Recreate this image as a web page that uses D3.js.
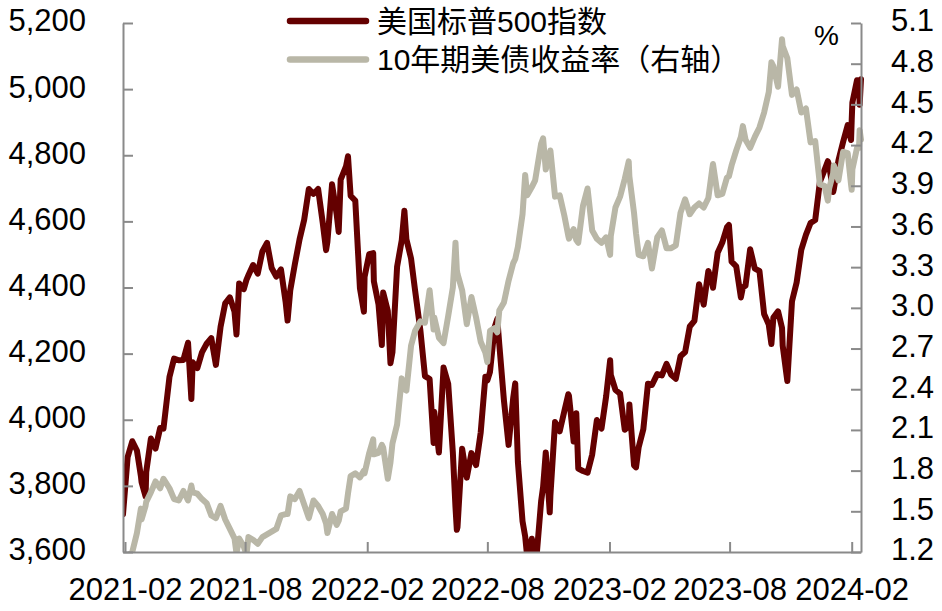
<!DOCTYPE html>
<html lang="zh">
<head>
  <meta charset="UTF-8" />
  <title>标普500与10年期美债收益率</title>
  <script src="https://cdn.jsdelivr.net/npm/d3@7"></script>
  <style>
    body {
      margin: 0;
      padding: 0;
      background: #fff;
    }
    svg {
      display: block;
      font-family: "Liberation Sans", Arial, "Noto Sans CJK SC", sans-serif;
    }
    .axis path, .axis line {
      stroke: #8a8a8a;
      stroke-width: 2px;
    }
    .axis text {
      font-size: 31px;
      fill: #000;
    }
    .line {
      fill: none;
      stroke-width: 6px;
      stroke-linejoin: round;
      stroke-linecap: round;
    }
  </style>
</head>
<body>
  <svg width="942" height="611"></svg>

  <script>
    // 日期（周频，加上部分周内高低点）
    const dates = [
      "2021-01-29","2021-02-05","2021-02-12","2021-02-19","2021-02-25","2021-02-26","2021-03-04","2021-03-05",
      "2021-03-12","2021-03-19","2021-03-26","2021-03-31","2021-04-09","2021-04-16","2021-04-23","2021-04-30",
      "2021-05-07","2021-05-12","2021-05-14","2021-05-21","2021-05-28","2021-06-04","2021-06-11","2021-06-18",
      "2021-06-25","2021-07-02","2021-07-09","2021-07-16","2021-07-19","2021-07-23","2021-07-30","2021-08-03",
      "2021-08-06","2021-08-13","2021-08-20","2021-08-27","2021-09-03","2021-09-10","2021-09-17","2021-09-24",
      "2021-10-01","2021-10-04","2021-10-08","2021-10-15","2021-10-22","2021-10-29","2021-11-05","2021-11-12",
      "2021-11-19","2021-11-26","2021-12-01","2021-12-03","2021-12-10","2021-12-17","2021-12-20","2021-12-23",
      "2021-12-31","2022-01-03","2022-01-07","2022-01-14","2022-01-21","2022-01-27","2022-01-28","2022-02-04",
      "2022-02-10","2022-02-11","2022-02-18","2022-02-23","2022-02-25","2022-03-04","2022-03-08","2022-03-11",
      "2022-03-18","2022-03-25","2022-03-29","2022-04-01","2022-04-08","2022-04-14","2022-04-22","2022-04-29",
      "2022-05-06","2022-05-12","2022-05-13","2022-05-20","2022-05-27","2022-06-03","2022-06-10","2022-06-14",
      "2022-06-16","2022-06-17","2022-06-24","2022-07-01","2022-07-08","2022-07-15","2022-07-22","2022-07-29",
      "2022-08-01","2022-08-05","2022-08-12","2022-08-16","2022-08-19","2022-08-26","2022-09-02","2022-09-09",
      "2022-09-12","2022-09-16","2022-09-23","2022-09-27","2022-09-30","2022-10-07","2022-10-12","2022-10-14",
      "2022-10-21","2022-10-24","2022-10-28","2022-11-03","2022-11-04","2022-11-11","2022-11-18","2022-11-25",
      "2022-12-01","2022-12-02","2022-12-09","2022-12-13","2022-12-16","2022-12-23","2022-12-30","2023-01-06",
      "2023-01-13","2023-01-20","2023-01-27","2023-02-02","2023-02-03","2023-02-10","2023-02-17","2023-02-24",
      "2023-03-02","2023-03-03","2023-03-10","2023-03-13","2023-03-17","2023-03-24","2023-03-31","2023-04-06",
      "2023-04-14","2023-04-21","2023-04-28","2023-05-05","2023-05-12","2023-05-19","2023-05-26","2023-06-02",
      "2023-06-09","2023-06-16","2023-06-23","2023-06-30","2023-07-06","2023-07-07","2023-07-14","2023-07-21",
      "2023-07-28","2023-07-31","2023-08-04","2023-08-11","2023-08-18","2023-08-21","2023-08-25","2023-09-01",
      "2023-09-08","2023-09-15","2023-09-22","2023-09-29","2023-10-03","2023-10-06","2023-10-13","2023-10-19",
      "2023-10-20","2023-10-27","2023-11-03","2023-11-10","2023-11-17","2023-11-24","2023-12-01","2023-12-08",
      "2023-12-15","2023-12-22","2023-12-27","2023-12-29","2024-01-04","2024-01-05","2024-01-12","2024-01-19",
      "2024-01-26","2024-01-31","2024-02-01","2024-02-02","2024-02-09","2024-02-12","2024-02-13","2024-02-15"
    ];

    // 美国标普500指数
    const spx = [
      3714, 3887, 3935, 3907, 3829, 3811, 3768, 3842,
      3943, 3913, 3975, 3973, 4129, 4185, 4180, 4181,
      4233, 4063, 4174, 4156, 4204, 4230, 4247, 4166,
      4281, 4352, 4370, 4327, 4258, 4412, 4395, 4423,
      4437, 4468, 4442, 4509, 4535, 4459, 4433, 4455,
      4357, 4300, 4391, 4471, 4545, 4605, 4698, 4683,
      4698, 4595, 4513, 4538, 4712, 4621, 4568, 4726,
      4766, 4797, 4677, 4663, 4398, 4327, 4432, 4501,
      4504, 4419, 4349, 4226, 4385, 4329, 4171, 4204,
      4463, 4543, 4632, 4546, 4488, 4393, 4272, 4132,
      4123, 3930, 4024, 3901, 4158, 4109, 3901, 3735,
      3667, 3675, 3912, 3825, 3899, 3863, 3962, 4130,
      4119, 4145, 4280, 4305, 4228, 4058, 3924, 4067,
      4110, 3873, 3693, 3647, 3586, 3640, 3577, 3583,
      3753, 3797, 3901, 3720, 3771, 3993, 3965, 4026,
      4077, 4072, 3934, 4020, 3852, 3845, 3840, 3895,
      3999, 3973, 4071, 4180, 4136, 4090, 4079, 3970,
      3981, 4046, 3862, 3856, 3917, 3971, 4109, 4105,
      4138, 4134, 4169, 4136, 4124, 4192, 4205, 4282,
      4299, 4410, 4348, 4450, 4412, 4399, 4505, 4536,
      4582, 4589, 4478, 4464, 4370, 4400, 4406, 4516,
      4457, 4450, 4320, 4288, 4229, 4309, 4328, 4278,
      4224, 4117, 4358, 4415, 4514, 4559, 4595, 4604,
      4719, 4755, 4782, 4770, 4689, 4697, 4784, 4840,
      4891, 4846, 4906, 4959, 5027, 5022, 4953, 5030
    ];

    // 10年期美债收益率（%）
    const ust10y = [
      1.07, 1.17, 1.20, 1.34, 1.52, 1.44, 1.54, 1.57,
      1.64, 1.72, 1.67, 1.74, 1.67, 1.59, 1.58, 1.65,
      1.58, 1.69, 1.64, 1.63, 1.59, 1.56, 1.47, 1.45,
      1.54, 1.44, 1.37, 1.30, 1.19, 1.30, 1.24, 1.18,
      1.31, 1.29, 1.26, 1.31, 1.33, 1.35, 1.37, 1.47,
      1.48, 1.48, 1.61, 1.59, 1.65, 1.55, 1.45, 1.58,
      1.54, 1.48, 1.41, 1.34, 1.48, 1.40, 1.43, 1.50,
      1.52, 1.63, 1.76, 1.78, 1.75, 1.80, 1.78, 1.93,
      2.03, 1.92, 1.93, 1.99, 1.97, 1.74, 1.86, 2.00,
      2.14, 2.48, 2.40, 2.39, 2.72, 2.83, 2.90, 2.89,
      3.13, 2.84, 2.93, 2.78, 2.74, 2.94, 3.15, 3.48,
      3.28, 3.25, 3.13, 2.88, 3.08, 2.93, 2.75, 2.67,
      2.60, 2.83, 2.85, 2.82, 2.98, 3.04, 3.20, 3.33,
      3.36, 3.45, 3.69, 3.98, 3.83, 3.89, 3.94, 4.00,
      4.21, 4.25, 4.02, 4.14, 4.16, 3.82, 3.83, 3.68,
      3.53, 3.51, 3.58, 3.50, 3.48, 3.75, 3.88, 3.57,
      3.51, 3.48, 3.52, 3.39, 3.53, 3.74, 3.82, 3.95,
      4.08, 3.97, 3.70, 3.55, 3.39, 3.38, 3.48, 3.29,
      3.52, 3.57, 3.44, 3.44, 3.46, 3.70, 3.80, 3.69,
      3.74, 3.77, 3.74, 3.81, 4.03, 4.06, 3.83, 3.84,
      3.96, 3.97, 4.05, 4.16, 4.26, 4.34, 4.24, 4.18,
      4.26, 4.33, 4.44, 4.59, 4.81, 4.78, 4.63, 4.98,
      4.93, 4.84, 4.57, 4.61, 4.44, 4.47, 4.22, 4.23,
      3.91, 3.90, 3.79, 3.88, 3.99, 4.05, 3.94, 4.15,
      4.14, 3.91, 3.87, 4.02, 4.18, 4.18, 4.31, 4.24
    ];

    const leftTicks = [3600, 3800, 4000, 4200, 4400, 4600, 4800, 5000, 5200];
    const rightTicks = [1.2, 1.5, 1.8, 2.1, 2.4, 2.7, 3.0, 3.3, 3.6, 3.9, 4.2, 4.5, 4.8, 5.1];
    const xTicks = ["2021-02-01", "2021-08-01", "2022-02-01", "2022-08-01", "2023-02-01", "2023-08-01", "2024-02-01"];
    const seriesNames = ["美国标普500指数", "10年期美债收益率（右轴）"];
    const colors = ["#640000", "#b9b7a7"];

    const svg = d3.select("svg");
    const plotLeft = 123, plotRight = 861, plotTop = 23, plotBottom = 552;

    const parse = d3.timeParse("%Y-%m-%d");
    const days = dates.map(parse);

    const x = d3.scaleTime()
      .domain([days[0], days[days.length - 1]])
      .range([plotLeft, plotRight]);
    const yL = d3.scaleLinear().domain([3600, 5200]).range([plotBottom, plotTop]);
    const yR = d3.scaleLinear().domain([1.2, 5.1]).range([plotBottom, plotTop]);

    svg.append("clipPath").attr("id", "plot")
      .append("rect")
      .attr("x", plotLeft).attr("y", plotTop - 5)
      .attr("width", plotRight - plotLeft + 5).attr("height", plotBottom - plotTop + 6);

    // 折线：先画标普，再画美债（副轴在上层）
    const lineL = d3.line().x((d, i) => x(days[i])).y(d => yL(d));
    const lineR = d3.line().x((d, i) => x(days[i])).y(d => yR(d));

    svg.append("path").datum(spx)
      .attr("class", "line")
      .attr("clip-path", "url(#plot)")
      .attr("stroke", colors[0])
      .attr("d", lineL);

    svg.append("path").datum(ust10y)
      .attr("class", "line")
      .attr("clip-path", "url(#plot)")
      .attr("stroke", colors[1])
      .attr("d", lineR);

    // 坐标轴
    svg.append("g").attr("class", "axis")
      .attr("transform", `translate(${plotLeft},0)`)
      .call(d3.axisLeft(yL).tickValues(leftTicks).tickFormat(d3.format(","))
        .tickSizeInner(-10).tickSizeOuter(0).tickPadding(37))
      .selectAll("text").attr("dy", "0.32em").attr("y", -2);

    svg.append("g").attr("class", "axis")
      .attr("transform", `translate(${plotRight},0)`)
      .call(d3.axisRight(yR).tickValues(rightTicks).tickFormat(d3.format(".1f"))
        .tickSizeInner(-10).tickSizeOuter(0).tickPadding(30))
      .selectAll("text").attr("dy", "0.32em").attr("y", -2);

    svg.append("g").attr("class", "axis")
      .attr("transform", `translate(0,${plotBottom})`)
      .call(d3.axisBottom(x).tickValues(xTicks.map(parse)).tickFormat(d3.timeFormat("%Y-%m"))
        .tickSizeInner(-10).tickSizeOuter(0).tickPadding(26));

    // 单位
    svg.append("text")
      .attr("x", 839).attr("y", 45)
      .attr("text-anchor", "end")
      .style("font-size", "28px")
      .text("%");

    // 图例
    const legend = svg.append("g");
    seriesNames.forEach((name, i) => {
      const ly = 21 + i * 38.5;
      legend.append("line")
        .attr("x1", 290).attr("x2", 366)
        .attr("y1", ly).attr("y2", ly)
        .attr("stroke", colors[i])
        .attr("stroke-width", 6.5)
        .attr("stroke-linecap", "round");
      legend.append("text")
        .attr("x", 377).attr("y", ly)
        .attr("dy", "0.35em")
        .style("font-size", "30px")
        .text(name);
    });
  </script>
</body>
</html>
